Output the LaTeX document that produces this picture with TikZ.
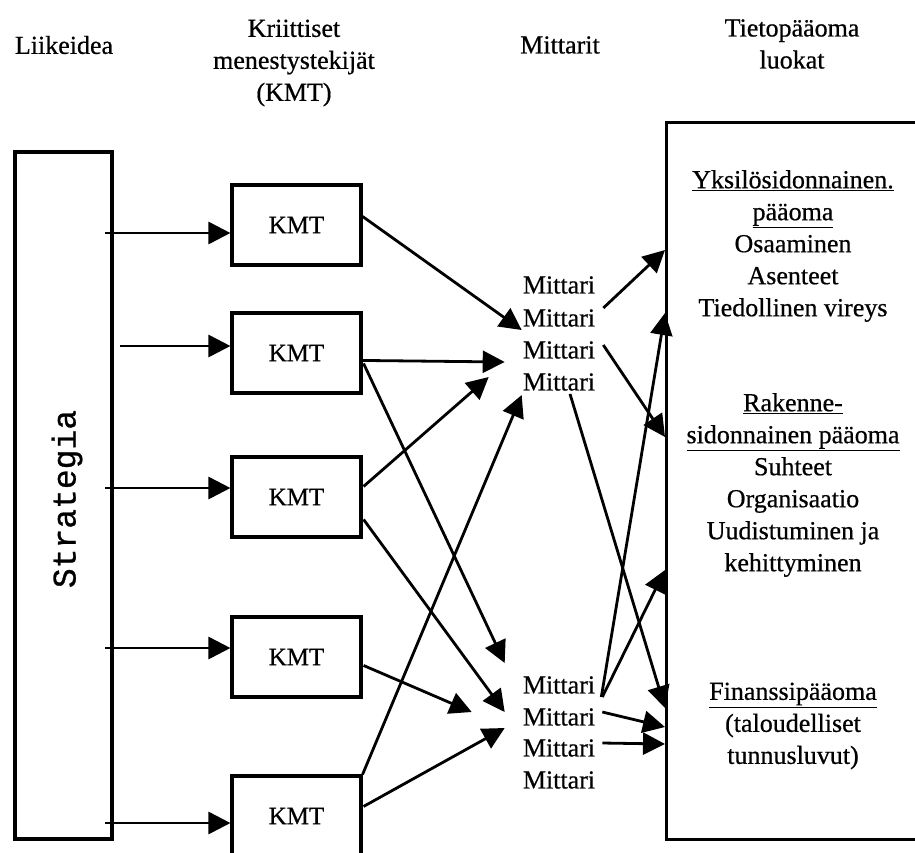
\documentclass[tikz,border=0pt]{standalone}
\usepackage{fontspec}
\setmainfont{Liberation Serif}[FakeBold=0.6]
\newfontfamily\stratfont{Liberation Mono}[FakeBold=0.8]
\usetikzlibrary{arrows.meta,calc}
\begin{document}
\begin{tikzpicture}[x=1pt,y=-1pt,
  txt/.style={font=\fontsize{26}{32}\selectfont, inner sep=0pt, align=center},
  frame/.style={draw, line width=3.1pt},
  kmtbox/.style={frame, minimum width=129pt, minimum height=80pt, inner sep=0pt,
                 font=\fontsize{25}{30}\selectfont},
  arr/.style={line width=2.8pt, -{Triangle[length=22pt,width=22pt]}},
  ]
\useasboundingbox (0,0) rectangle (915,852);

% column headings
\node[txt] (h1) at (64,45) {Liikeidea};
\node[txt] (h2) at (294,63) {Kriittiset\\menestystekijät\\(KMT)};
\node[txt] (h3) at (560,45) {Mittarit};
\node[txt] (h4) at (792,44) {Tietopääoma\\luokat};

% strategy column
\node[frame, minimum width=97pt, minimum height=687pt, inner sep=0pt] (st) at (63.5,495.5) {};
\node[rotate=90, inner sep=0pt, font=\stratfont\fontsize{33}{33}\selectfont] (stt) at (67,499) {Strategia};

% critical success factors
\node[kmtbox] (k1) at (296.5,225) {KMT};
\node[kmtbox] (k2) at (296.5,353) {KMT};
\node[kmtbox] (k3) at (296.5,497) {KMT};
\node[kmtbox] (k4) at (296.5,657) {KMT};
\node[kmtbox] (k5) at (296.5,816) {KMT};

% measures
\node[txt] (um1) at (559,285) {Mittari};
\node[txt] (um2) at (559,318) {Mittari};
\node[txt] (um3) at (559,350) {Mittari};
\node[txt] (um4) at (559,382) {Mittari};
\node[txt] (lm1) at (559,685) {Mittari};
\node[txt] (lm2) at (559,717) {Mittari};
\node[txt] (lm3) at (559,748) {Mittari};
\node[txt] (lm4) at (559,780) {Mittari};

% intellectual capital classes
\node[frame, anchor=north west, minimum width=270pt, minimum height=717pt, inner sep=0pt] (rb) at (665,121) {};
\node[txt] (c1) at (793,246) {\underline{Yksilösidonnainen.}\\\underline{pääoma}\\Osaaminen\\Asenteet\\Tiedollinen vireys};
\node[txt] (c2) at (793,485) {\underline{Rakenne-}\\\underline{sidonnainen pääoma}\\Suhteet\\Organisaatio\\Uudistuminen ja\\kehittyminen};
\node[txt] (c3) at (793,726) {\underline{Finanssipääoma}\\(taloudelliset\\tunnusluvut)};

% free starting points of the strategy arrows
\coordinate (s1) at (105,233);
\coordinate (s2) at (120,346);
\coordinate (s3) at (105,488);
\coordinate (s4) at (105,648);
\coordinate (s5) at (105,823);

\draw[arr] (s1) -- (s1 -| k1.west);
\draw[arr] (s2) -- (s2 -| k2.west);
\draw[arr] (s3) -- (s3 -| k3.west);
\draw[arr] (s4) -- (s4 -| k4.west);
\draw[arr] (s5) -- (s5 -| k5.west);

% factors to measures
\draw[arr] ($(k1.north east)+(0,33)$) -- ($(um2.west)+(-1,12)$);
\draw[arr] ($(k2.north east)+(0,49)$) -- ($(um3.west)+(-18,12)$);
\draw[arr] ($(k2.north east)+(1,52)$) -- ($(lm1.west)+(-18,-22)$);
\draw[arr] ($(k3.north east)+(1,31)$) -- ($(um4.west)+(-34,-5)$);
\draw[arr] ($(k3.north east)+(1,64)$) -- ($(lm2.west)+(-18,-5)$);
\draw[arr] ($(k4.north east)+(1,50)$) -- ($(lm2.west)+(-51,-5)$);
\draw[arr] (k5.north east) -- ($(um4.west)+(-1,13)$);
\draw[arr] ($(k5.north east)+(1,32)$) -- ($(lm3.west)+(-18,-20)$);

% measures to capital classes
\draw[arr] ($(um2.east)+(8,-10)$) -- (rb.west |- 0,250);
\draw[arr] ($(um3.east)+(8,-5)$) -- (rb.west |- 0,437);
\draw[arr] ($(um4.south)+(11,3)$) -- (rb.west |- 0,708);
\draw[arr] ($(lm1.east)+(6,12)$) -- (rb.west |- 0,313);
\draw[arr] ($(lm1.east)+(7,12)$) -- (rb.west |- 0,570);
\draw[arr] ($(lm2.east)+(7,-5)$) -- (rb.west |- 0,727);
\draw[arr] ($(lm3.east)+(7,-5)$) -- (rb.west |- 0,744);
\end{tikzpicture}
\end{document}
